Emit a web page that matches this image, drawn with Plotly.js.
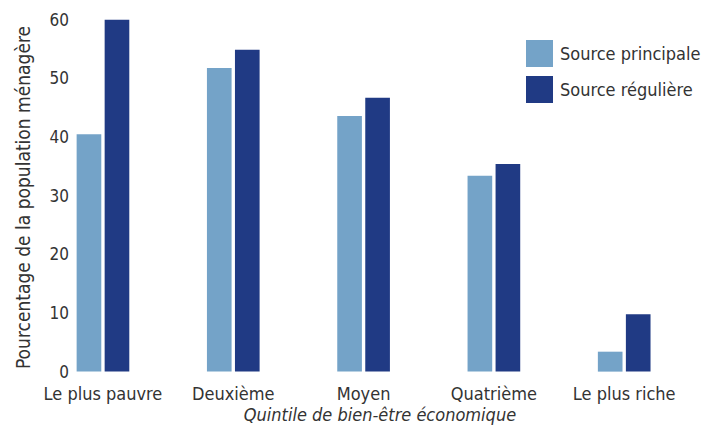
<!DOCTYPE html>
<html>
<head>
<meta charset="utf-8">
<script src="https://cdn.plot.ly/plotly-3.0.1.min.js"></script>
<style>html,body{margin:0;padding:0;background:#fff}#chart{width:704px;height:427px}</style>
</head>
<body>
<div id="chart"></div>
<script>
var categories = ["Le plus pauvre", "Deuxième", "Moyen", "Quatrième", "Le plus riche"];
var seriesNames = ["Source principale", "Source régulière"];
var sourcePrincipale = [40.5, 51.8, 43.6, 33.4, 3.4];
var sourceReguliere = [60, 54.9, 46.7, 35.4, 9.8];
var yTickVals = [0, 10, 20, 30, 40, 50, 60];
var colors = ["#74A3C8", "#203A84"];

var FONT = "'DejaVu Sans Condensed', 'Liberation Sans Narrow', sans-serif";
var TXT = "#333333";

var xIdx = categories.map(function(c, i){ return i; });
var traces = [sourcePrincipale, sourceReguliere].map(function(vals, k){
  return {
    type: "bar", x: xIdx, y: vals, name: seriesNames[k],
    marker: {color: colors[k]}, showlegend: false, hoverinfo: "y"
  };
});

var shapes = [], annotations = [];
seriesNames.forEach(function(n, k){
  shapes.push({type: "rect", xref: "paper", yref: "paper",
    x0: (526-70)/620, x1: (553-70)/620,
    y0: (381-(67+36*k))/367, y1: (381-(40+36*k))/367,
    fillcolor: colors[k], line: {width: 0}});
  annotations.push({xref: "paper", yref: "paper", x: (558-70)/620, y: (381-(53.5+36*k))/367,
    xanchor: "left", yanchor: "middle", text: n, showarrow: false,
    font: {family: FONT, size: 18, color: TXT}});
});

var layout = {
  width: 704, height: 427,
  margin: {l: 70, r: 14, t: 14, b: 46},
  paper_bgcolor: "#fff", plot_bgcolor: "#fff",
  barmode: "group", bargap: 0.57, bargroupgap: 0.12,
  font: {family: FONT, color: TXT, size: 18},
  xaxis: {
    range: [-0.253, 4.505], tickvals: xIdx, ticktext: categories,
    showgrid: false, zeroline: false, showline: false, ticks: "",
    tickfont: {family: FONT, size: 18, color: TXT},
    title: {text: "<i>Quintile de bien-être économique</i>", standoff: 0,
      font: {family: FONT, size: 18, color: TXT}}
  },
  yaxis: {
    range: [-1.6, 61], tickvals: yTickVals,
    showgrid: false, zeroline: false, showline: false, ticks: "",
    tickfont: {family: FONT, size: 17, color: TXT},
    title: {text: "Pourcentage de la population ménagère", standoff: 13,
      font: {family: FONT, size: 19, color: TXT}}
  },
  shapes: shapes, annotations: annotations
};
Plotly.newPlot("chart", traces, layout, {displayModeBar: false, staticPlot: true});
</script>
</body>
</html>
